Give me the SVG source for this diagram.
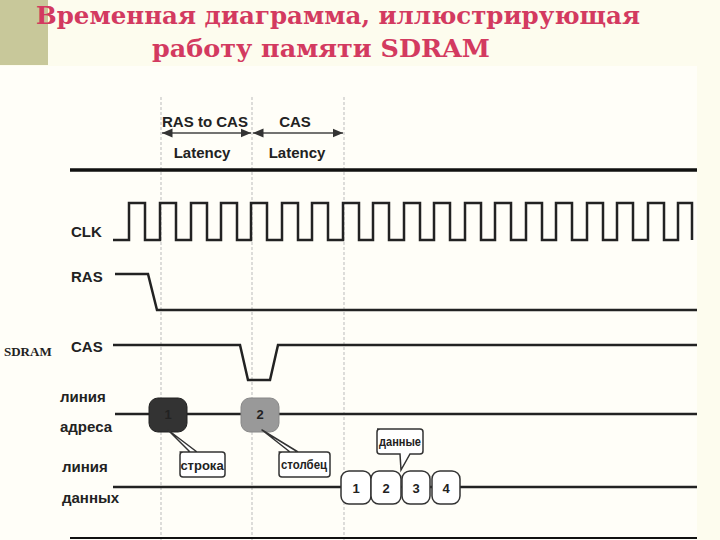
<svg xmlns="http://www.w3.org/2000/svg" width="720" height="540" viewBox="0 0 720 540">
<defs>
<style>
.t{font-family:"DejaVu Serif","Liberation Serif",serif;font-weight:bold;font-size:24px;fill:#d33a60;text-anchor:start}
.l{font-family:"Liberation Sans",Arial,sans-serif;font-size:15px;fill:#222;font-weight:bold}
.s{fill:none;stroke:#222;stroke-width:2.5}
.g{stroke:#bbb;stroke-width:1;stroke-dasharray:3,2}
.b{fill:#fff;stroke:#333;stroke-width:1.5}
.c{font-family:"Liberation Sans",Arial,sans-serif;font-size:13px;fill:#222;text-anchor:middle;font-weight:bold}
</style>
<marker id="a" markerWidth="8" markerHeight="8" refX="7" refY="4" orient="auto-start-reverse"><path d="M0,1 L7,4 L0,7z" fill="#333"/></marker>
</defs>
<rect width="720" height="540" fill="#fdfcee"/>
<rect x="0" y="0" width="48" height="65" fill="#c8c89a"/>
<rect x="0" y="66" width="697" height="474" fill="#fffef8"/>
<text class="t" x="36" y="24" textLength="604" lengthAdjust="spacingAndGlyphs">Временная диаграмма, иллюстрирующая</text>
<text class="t" x="152" y="57" textLength="338" lengthAdjust="spacingAndGlyphs">работу памяти SDRAM</text>
<g id="grid">
<line class="g" x1="161" y1="97" x2="161" y2="540"/>
<line class="g" x1="252" y1="97" x2="252" y2="540"/>
<line class="g" x1="344" y1="97" x2="344" y2="540"/>
</g>
<g id="latency">
<line x1="162" y1="133" x2="251" y2="133" stroke="#444" stroke-width="1.5" marker-start="url(#a)" marker-end="url(#a)"/>
<line x1="253" y1="133" x2="343" y2="133" stroke="#444" stroke-width="1.5" marker-start="url(#a)" marker-end="url(#a)"/>
<text class="l" x="205" y="127" text-anchor="middle" textLength="86" lengthAdjust="spacingAndGlyphs">RAS to CAS</text>
<text class="l" x="295" y="127" text-anchor="middle">CAS</text>
<text class="l" x="202" y="158" text-anchor="middle">Latency</text>
<text class="l" x="297" y="158" text-anchor="middle">Latency</text>
</g>
<line x1="70" y1="170" x2="697" y2="170" stroke="#111" stroke-width="3.5"/>
<g id="labels">
<text class="l" x="71" y="237">CLK</text>
<text class="l" x="71" y="282">RAS</text>
<text class="l" x="71" y="352">CAS</text>
<text x="4" y="356" font-family="Liberation Serif,serif" font-size="13" font-weight="bold" fill="#222">SDRAM</text>
<text class="l" x="60" y="402" font-size="14">линия</text>
<text class="l" x="60" y="432" font-size="14">адреса</text>
<text class="l" x="62" y="472" font-size="14">линия</text>
<text class="l" x="62" y="503" font-size="14">данных</text>
</g>
<g id="signals">
<path class="s" d="M113,240 H129 V203 H145 V240 H160 V203 H176 V240 H191 V203 H207 V240 H221 V203 H237 V240 H251 V203 H267 V240 H282 V203 H298 V240 H312 V203 H328 V240 H343 V203 H359 V240 H373 V203 H389 V240 H404 V203 H420 V240 H434 V203 H450 V240 H465 V203 H481 V240 H495 V203 H511 V240 H526 V203 H542 V240 H556 V203 H572 V240 H587 V203 H603 V240 H617 V203 H633 V240 H648 V203 H664 V240 H678 V203 H692 V240"/>
<path class="s" d="M115,274 H148 L157,310 H697"/>
<path class="s" d="M113,345 H240 L248,380 H270 L278,345 H697"/>
<line class="s" x1="115" y1="414" x2="697" y2="414"/>
<line class="s" x1="113" y1="487" x2="697" y2="487"/>
</g>
<g id="addr1">
<rect x="149" y="398" width="38" height="34" rx="9" fill="#333" stroke="#222"/>
<text class="c" x="168" y="419" fill="#aaa">1</text>
</g>
<g id="addr2">
<rect x="241" y="398" width="38" height="34" rx="9" fill="#999" stroke="#888"/>
<text class="c" x="260" y="419" fill="#ddd">2</text>
</g>
<g id="callouts">
<path class="b" d="M180,452 H222 Q225,452 225,455 V474 Q225,477 222,477 H183 Q180,477 180,474 V455 Q180,452 183,452 H190 L168,430 L197,452 Z" stroke-linejoin="round"/>
<text class="c" x="202" y="470">строка</text>
<path class="b" d="M279,452 H327 Q330,452 330,455 V474 Q330,477 327,477 H282 Q279,477 279,474 V455 Q279,452 282,452 H290 L262,430 L298,452 Z" stroke-linejoin="round"/>
<text class="c" x="304" y="469" textLength="46" lengthAdjust="spacingAndGlyphs">столбец</text>
<path class="b" d="M377,429 H420 Q423,429 423,432 V451 Q423,454 420,454 H410 L401,470 L400,454 H380 Q377,454 377,451 V432 Q377,429 380,429 Z"/>
<text class="c" x="400" y="446" font-size="11" textLength="42" lengthAdjust="spacingAndGlyphs">данные</text>
</g>
<g id="data">
<rect class="b" x="341" y="471" width="30" height="33" rx="8"/>
<rect class="b" x="371" y="471" width="30" height="33" rx="8"/>
<rect class="b" x="402" y="471" width="28" height="33" rx="8"/>
<rect class="b" x="432" y="471" width="28" height="33" rx="8"/>
<text class="c" x="356" y="493">1</text>
<text class="c" x="386" y="493">2</text>
<text class="c" x="416" y="493">3</text>
<text class="c" x="446" y="493">4</text>
</g>
<line x1="70" y1="538" x2="697" y2="538" stroke="#111" stroke-width="2"/>
</svg>
